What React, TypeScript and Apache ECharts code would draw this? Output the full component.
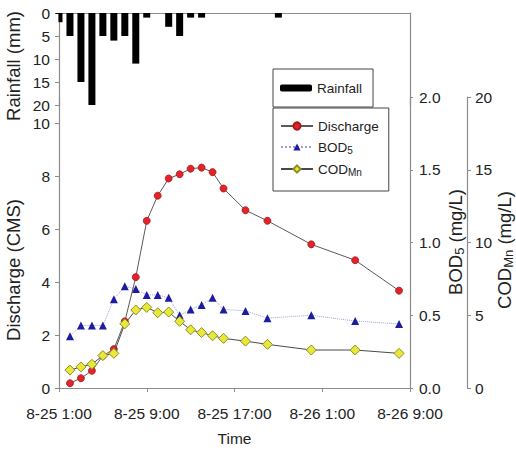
import React, { useEffect, useRef } from "react";
import * as echarts from "echarts";

const xTickLabels = ["8-25 1:00", "8-25 9:00", "8-25 17:00", "8-26 1:00", "8-26 9:00"];
// hours after 8-25 1:00
const rainHours = [0, 1, 2, 3, 4, 5, 6, 7, 8, 10, 11, 12, 13, 20];
const rainfall = [2, 5, 15, 20, 5, 6, 5, 11, 1, 3, 5, 1, 1, 1];
const sampleHours = [1, 2, 3, 4, 5, 6, 7, 8, 9, 10, 11, 12, 13, 14, 15, 17, 19, 23, 27, 31];
const discharge = [0.18, 0.37, 0.65, 1.22, 1.47, 2.52, 4.19, 6.32, 7.27, 7.92, 8.08, 8.29, 8.33, 8.16, 7.54, 6.72, 6.32, 5.43, 4.83, 3.68];
const bod5 = [0.355, 0.43, 0.43, 0.43, 0.61, 0.7, 0.68, 0.64, 0.64, 0.62, 0.5, 0.54, 0.57, 0.62, 0.54, 0.53, 0.48, 0.5, 0.46, 0.44];
const codMn = [1.23, 1.45, 1.63, 2.23, 2.38, 4.41, 5.36, 5.54, 5.17, 5.22, 4.58, 4.0, 3.81, 3.59, 3.41, 3.22, 3.0, 2.61, 2.61, 2.38];
const dischargeTicks = [0, 2, 4, 6, 8, 10];

const FONT = "'Liberation Sans', Arial, sans-serif";
const AXIS = "#8c8c8c";
const TXT = "#222";

export default function App() {
  const ref = useRef<HTMLDivElement>(null);
  useEffect(() => {
    if (!ref.current) return;
    const chart = echarts.init(ref.current, undefined, { renderer: "svg" });
    const pair = (xs: number[], ys: number[]) => xs.map((x, i) => [x, ys[i]]);
    const axisLine = { show: true, lineStyle: { color: AXIS, width: 1.2 } };
    const lbl = { color: TXT, fontSize: 15.5, fontFamily: FONT };
    const titleRich = {
      a: { fontSize: 18.5, lineHeight: 22, fontFamily: FONT, color: TXT },
      s: { fontSize: 13, lineHeight: 22, verticalAlign: "bottom", fontFamily: FONT, color: TXT },
    };
    const option: any = {
      animation: false,
      backgroundColor: "#fff",
      grid: [
        { left: 59, top: 13, width: 351, height: 92 },
        { left: 59, top: 97, width: 351, height: 294 },
      ],
      xAxis: [
        {
          gridIndex: 0, type: "value", min: 0, max: 32, position: "top",
          axisLine, axisTick: { show: false }, axisLabel: { show: false }, splitLine: { show: false },
        },
        {
          gridIndex: 1, type: "value", min: 0, max: 32, interval: 8, position: "bottom",
          axisLine, axisTick: { show: true, inside: false, length: 4, lineStyle: { color: AXIS } },
          axisLabel: { ...lbl, margin: 17, formatter: (v: number) => xTickLabels[Math.round(v / 8)] ?? "" },
          splitLine: { show: false },
          name: "Time", nameLocation: "middle", nameGap: 42,
          nameTextStyle: { color: TXT, fontSize: 15.5, fontFamily: FONT },
        },
      ],
      yAxis: [
        {
          gridIndex: 0, type: "value", min: 0, max: 20, interval: 5, inverse: true, position: "left",
          axisLine, axisTick: { show: true, length: 4, lineStyle: { color: AXIS } },
          axisLabel: { ...lbl, margin: 9 }, splitLine: { show: false },
        },
        {
          gridIndex: 0, type: "value", min: 0, max: 20, position: "right",
          axisLine, axisTick: { show: false }, axisLabel: { show: false }, splitLine: { show: false },
        },
        {
          gridIndex: 1, type: "value", min: 0, max: 11, interval: 2, position: "left",
          axisLine,
          axisTick: { show: true, length: 4, lineStyle: { color: AXIS }, customValues: dischargeTicks },
          axisLabel: { ...lbl, margin: 9, customValues: dischargeTicks, formatter: (v: number) => (v > 10 ? "" : String(v)) },
          splitLine: { show: false },
        },
        {
          gridIndex: 1, type: "value", min: 0, max: 2, interval: 0.5, position: "right",
          axisLine, axisTick: { show: true, length: 3, lineStyle: { color: AXIS } },
          axisLabel: { ...lbl, margin: 9, formatter: (v: number) => v.toFixed(1) }, splitLine: { show: false },
        },
        {
          gridIndex: 1, type: "value", min: 0, max: 20, interval: 5, position: "right", offset: 57,
          axisLine, axisTick: { show: true, length: 4, lineStyle: { color: AXIS } },
          axisLabel: { ...lbl, margin: 8 }, splitLine: { show: false },
        },
      ],
      legend: [
        {
          data: ["Rainfall"], left: 273, top: 69, orient: "vertical", selectedMode: false,
          borderColor: "#444", borderWidth: 1, padding: [12, 11, 12, 7],
          itemWidth: 32, itemHeight: 7, itemGap: 0,
          textStyle: { color: TXT, fontSize: 13.5, fontFamily: FONT },
        },
        {
          data: ["Discharge", "BOD5", "CODMn"], left: 273, top: 108, orient: "vertical", selectedMode: false,
          borderColor: "#444", borderWidth: 1, padding: [11, 10, 14, 7],
          itemWidth: 32, itemHeight: 9, itemGap: 7,
          formatter: (n: string) => (n === "BOD5" ? "{a|BOD}{s|5}" : n === "CODMn" ? "{a|COD}{s|Mn}" : "{a|" + n + "}"),
          textStyle: {
            color: TXT, fontSize: 13.5, fontFamily: FONT,
            rich: {
              a: { fontSize: 13.5, lineHeight: 16, color: TXT, fontFamily: FONT },
              s: { fontSize: 10, lineHeight: 16, verticalAlign: "bottom", color: TXT, fontFamily: FONT },
            },
          },
        },
      ],
      graphic: [
        {
          type: "rect", z: 100, silent: true,
          shape: { x: 50, y: 14, width: 8.4, height: 16 },
          style: { fill: "#fff" },
        },
        {
          type: "text", x: 13, y: 66, rotation: Math.PI / 2,
          style: { text: "Rainfall (mm)", fill: TXT, font: `18.5px ${FONT}`, align: "center", verticalAlign: "middle" },
        },
        {
          type: "text", x: 13, y: 270, rotation: Math.PI / 2,
          style: { text: "Discharge (CMS)", fill: TXT, font: `18.5px ${FONT}`, align: "center", verticalAlign: "middle" },
        },
        {
          type: "text", x: 455, y: 242, rotation: Math.PI / 2,
          style: { text: "{a|BOD}{s|5}{a| (mg/L)}", rich: titleRich, fill: TXT, align: "center", verticalAlign: "middle" },
        },
        {
          type: "text", x: 504, y: 250, rotation: Math.PI / 2,
          style: { text: "{a|COD}{s|Mn}{a| (mg/L)}", rich: titleRich, fill: TXT, align: "center", verticalAlign: "middle" },
        },
      ],
      series: [
        {
          name: "Rainfall", type: "bar", xAxisIndex: 0, yAxisIndex: 0, barWidth: 7,
          itemStyle: { color: "#000" }, data: pair(rainHours, rainfall),
        },
        {
          name: "Discharge", type: "line", xAxisIndex: 1, yAxisIndex: 2,
          symbol: "circle", symbolSize: 7,
          lineStyle: { color: "#5a5a5a", width: 1 },
          itemStyle: { color: "#e3232b", borderColor: "#a31818", borderWidth: 0.8 },
          data: pair(sampleHours, discharge), z: 3,
        },
        {
          name: "BOD5", type: "line", xAxisIndex: 1, yAxisIndex: 3,
          symbol: "triangle", symbolSize: 8,
          lineStyle: { color: "#9aa3d6", width: 1, type: "dotted" },
          itemStyle: { color: "#1c1ca0", borderColor: "#1c1ca0", borderWidth: 0 },
          data: pair(sampleHours, bod5), z: 2,
        },
        {
          name: "CODMn", type: "line", xAxisIndex: 1, yAxisIndex: 4,
          symbol: "diamond", symbolSize: 10,
          lineStyle: { color: "#4a4a4a", width: 1 },
          itemStyle: { color: "#e8e83c", borderColor: "#8f8f20", borderWidth: 1 },
          data: pair(sampleHours, codMn), z: 4,
        },
      ],
    };
    chart.setOption(option);
    return () => chart.dispose();
  }, []);
  return <div ref={ref} style={{ position: "fixed", left: 0, top: 0, width: 516, height: 451 }} />;
}
